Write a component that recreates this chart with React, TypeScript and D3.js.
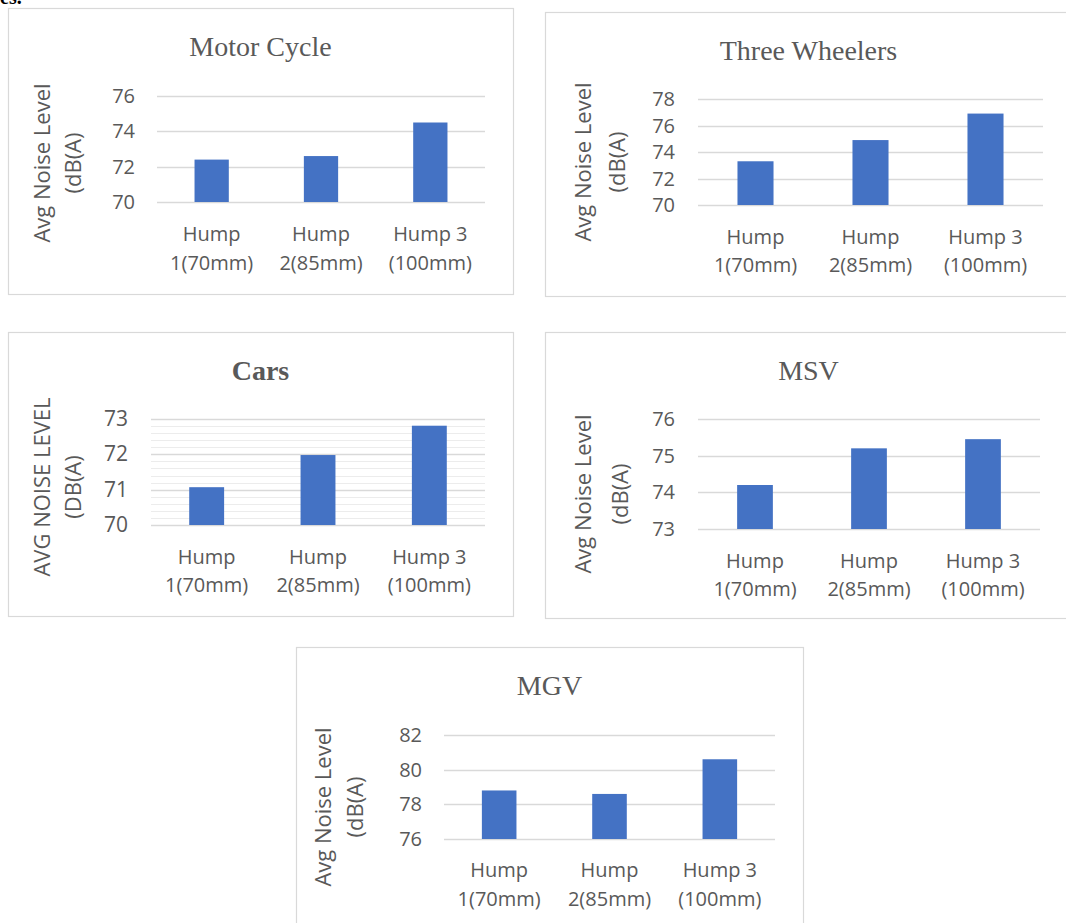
import React from "react";
import * as d3 from "d3";

// ---- data ----
const categoryLines: string[][] = [
  ["Hump", "1(70mm)"],
  ["Hump", "2(85mm)"],
  ["Hump 3", "(100mm)"],
];
const categories = ["Hump 1(70mm)", "Hump 2(85mm)", "Hump 3 (100mm)"];

const motorCycleValues = [72.4, 72.6, 74.5];
const threeWheelerValues = [73.3, 74.9, 76.9];
const carValues = [71.07, 71.98, 72.81];
const msvValues = [74.2, 75.2, 75.45];
const mgvValues = [78.8, 78.6, 80.6];

const motorCycleTicks = [70, 72, 74, 76];
const threeWheelerTicks = [70, 72, 74, 76, 78];
const carTicks = [70, 71, 72, 73];
const carMinorTicks = d3.range(70, 73.0001, 0.2);
const msvTicks = [73, 74, 75, 76];
const mgvTicks = [76, 78, 80, 82];

const titles = ["Motor Cycle", "Three Wheelers", "Cars", "MSV", "MGV"];
const yTitleNormal = ["Avg Noise Level", "(dB(A)"];
const yTitleUpper = ["AVG NOISE LEVEL", "(DB(A)"];

// ---- styles ----
const BAR = "#4472C4";
const GRID = "#d9d9d9";
const MINOR = "#ececec";
const TEXT = "#595959";
const AXIS_FONT = "'Open Sans', 'DejaVu Sans', sans-serif";
const TITLE_FONT = "'Liberation Serif', 'Times New Roman', serif";

type PanelProps = {
  frame: [number, number, number, number]; // x0,y0,x1,y1
  plot: [number, number, number, number]; // left, top, right, bottom
  title: string;
  bold?: boolean;
  values: number[];
  ticks: number[];
  minor?: number[];
  yTitle: string[];
  yTitleX: [number, number];
  yTitleY: number;
  tickRight: number;
  xLabelDy: [number, number];
  tickFont?: number;
};

function Panel(p: PanelProps) {
  const [fx0, fy0, fx1, fy1] = p.frame;
  const [pl, pt, pr, pb] = p.plot;
  const y = d3
    .scaleLinear()
    .domain([p.ticks[0], p.ticks[p.ticks.length - 1]])
    .range([pb, pt]);
  const x = d3.scaleBand<string>().domain(categories).range([pl, pr]).padding(0);
  const step = x.step();
  const bw = step / 3.19;
  return (
    <g>
      <rect
        x={fx0 + 0.5}
        y={fy0 + 0.5}
        width={fx1 - fx0}
        height={fy1 - fy0}
        fill="#fff"
        stroke={GRID}
        strokeWidth={1.2}
      />
      <text
        x={(fx0 + fx1) / 2}
        y={fy0 + 48}
        textAnchor="middle"
        fontFamily={TITLE_FONT}
        fontSize={28}
        fontWeight={p.bold ? "bold" : "normal"}
        fill={TEXT}
      >
        {p.title}
      </text>
      {(p.minor || []).map((t, i) => (
        <line
          key={"m" + i}
          x1={pl}
          x2={pr}
          y1={Math.round(y(t)) + 0.5}
          y2={Math.round(y(t)) + 0.5}
          stroke={MINOR}
          strokeWidth={1}
        />
      ))}
      {p.ticks.map((t) => (
        <g key={t}>
          <line
            x1={pl}
            x2={pr}
            y1={Math.round(y(t)) + 0.5}
            y2={Math.round(y(t)) + 0.5}
            stroke={GRID}
            strokeWidth={1.3}
          />
          <text
            x={p.tickRight}
            y={y(t) + 7}
            textAnchor="end"
            fontFamily={AXIS_FONT}
            fontSize={p.tickFont || 20}
            fill={TEXT}
          >
            {t}
          </text>
        </g>
      ))}
      {p.values.map((v, i) => {
        const cx = (x(categories[i]) as number) + step / 2;
        return (
          <rect
            key={i}
            x={cx - bw / 2}
            y={y(v)}
            width={bw}
            height={pb - y(v)}
            fill={BAR}
          />
        );
      })}
      {categoryLines.map((lines, i) => {
        const cx = (x(categories[i]) as number) + step / 2;
        return (
          <text
            key={"c" + i}
            textAnchor="middle"
            fontFamily={AXIS_FONT}
            fontSize={20}
            fill={TEXT}
          >
            <tspan x={cx} y={pb + p.xLabelDy[0]}>
              {lines[0]}
            </tspan>
            <tspan x={cx} y={pb + p.xLabelDy[1]}>
              {lines[1]}
            </tspan>
          </text>
        );
      })}
      {p.yTitle.map((line, i) => (
        <text
          key={"yt" + i}
          transform={`translate(${p.yTitleX[i] + 8},${p.yTitleY}) rotate(-90)`}
          textAnchor="middle"
          fontFamily={AXIS_FONT}
          fontSize={22}
          fill={TEXT}
        >
          {line}
        </text>
      ))}
    </g>
  );
}

export default function App() {
  return (
    <svg
      width={1066}
      height={923}
      style={{ position: "absolute", left: 0, top: 0, background: "#fff" }}
    >
      <rect x={0} y={0} width={1066} height={923} fill="#fff" />
      <text x={0} y={4} fontFamily={TITLE_FONT} fontWeight="bold" fontSize={20} fill="#000">
        es.
      </text>
      <Panel
        frame={[8, 8, 513, 294]}
        plot={[157, 96, 485, 202]}
        title={titles[0]}
        values={motorCycleValues}
        ticks={motorCycleTicks}
        yTitle={yTitleNormal}
        yTitleX={[42, 73]}
        yTitleY={163}
        tickRight={135}
        xLabelDy={[39, 68]}
      />
      <Panel
        frame={[545, 12, 1072, 296]}
        plot={[698, 99, 1043, 205]}
        title={titles[1]}
        values={threeWheelerValues}
        ticks={threeWheelerTicks}
        yTitle={yTitleNormal}
        yTitleX={[583, 617]}
        yTitleY={162}
        tickRight={675}
        xLabelDy={[39, 67]}
      />
      <Panel
        frame={[8, 332, 513, 616]}
        plot={[151, 419, 485, 525]}
        title={titles[2]}
        bold
        values={carValues}
        ticks={carTicks}
        minor={carMinorTicks}
        yTitle={yTitleUpper}
        yTitleX={[42, 73]}
        yTitleY={487}
        tickRight={128}
        xLabelDy={[39, 67]}
        tickFont={21}
      />
      <Panel
        frame={[545, 332, 1072, 618]}
        plot={[698, 419, 1040, 529]}
        title={titles[3]}
        values={msvValues}
        ticks={msvTicks}
        yTitle={yTitleNormal}
        yTitleX={[583, 620]}
        yTitleY={494}
        tickRight={675}
        xLabelDy={[39, 67]}
      />
      <Panel
        frame={[296, 647, 803, 930]}
        plot={[444, 735, 775, 839]}
        title={titles[4]}
        values={mgvValues}
        ticks={mgvTicks}
        yTitle={yTitleNormal}
        yTitleX={[323, 355]}
        yTitleY={807}
        tickRight={422}
        xLabelDy={[38, 67]}
      />
    </svg>
  );
}
